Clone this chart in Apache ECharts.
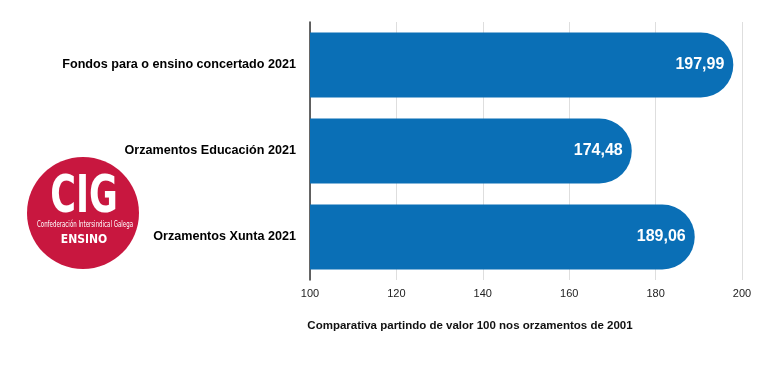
<!DOCTYPE html>
<html>
<head>
<meta charset="utf-8">
<script src="https://cdn.jsdelivr.net/npm/echarts@6/dist/echarts.min.js"></script>
<style>
html,body{margin:0;padding:0;background:#fff;}
#chart{width:767px;height:366px;}
</style>
</head>
<body>
<div id="chart"></div>
<script>
const categories = ["Fondos para o ensino concertado 2021", "Orzamentos Educación 2021", "Orzamentos Xunta 2021"];
const values = [197.99, 174.48, 189.06];
const axisTicks = [100, 120, 140, 160, 180, 200];
const axisTitle = "Comparativa partindo de valor 100 nos orzamentos de 2001";

const chart = echarts.init(document.getElementById('chart'), null, {renderer: 'canvas'});
const font = '"Liberation Sans", Arial, Helvetica, sans-serif';
chart.setOption({
  animation: false,
  backgroundColor: '#ffffff',
  grid: {left: 310, right: 25, top: 22, bottom: 86, containLabel: false},
  xAxis: {
    type: 'value',
    min: axisTicks[0],
    max: axisTicks[axisTicks.length - 1],
    interval: 20,
    axisLine: {show: false},
    axisTick: {show: false},
    splitLine: {show: true, lineStyle: {color: '#dedede', width: 1}},
    axisLabel: {color: '#222', fontFamily: font, fontSize: 11, margin: 8,
      formatter: v => String(v)},
    name: axisTitle,
    nameLocation: 'middle',
    nameGap: 40,
    nameTextStyle: {color: '#111', fontFamily: font, fontSize: 11.5, fontWeight: 'bold', padding: [0, 0, 0, -112]}
  },
  yAxis: {
    type: 'category',
    inverse: true,
    data: categories,
    axisLine: {show: true, onZero: false, lineStyle: {color: '#333', width: 1.5}},
    axisTick: {show: false},
    axisLabel: {color: '#000', fontFamily: font, fontSize: 12.6, fontWeight: 'bold', margin: 14}
  },
  series: [{
    type: 'bar',
    data: values,
    barWidth: 65,
    itemStyle: {color: '#0a6fb6', borderRadius: [0, 33, 33, 0]},
    label: {
      show: true, position: 'insideRight', distance: 9,
      color: '#fff', fontFamily: font, fontSize: 16, fontWeight: 'bold',
      formatter: p => p.value.toFixed(2).replace('.', ',')
    }
  }],
  graphic: [
    {type: 'circle', shape: {cx: 83, cy: 213, r: 56}, style: {fill: '#c8173f'}, z: 10},
    {type: 'text', x: 84, y: 198, scaleX: 0.75, z: 11,
      style: {text: 'CIG', fill: '#fff', align: 'center', verticalAlign: 'middle',
        font: 'bold 52px "DejaVu Sans Condensed", "Liberation Sans", sans-serif'}},
    {type: 'text', x: 85, y: 225, scaleX: 0.76, z: 11,
      style: {text: 'Confederación Intersindical Galega', fill: '#fff', align: 'center', verticalAlign: 'middle',
        font: '8px "DejaVu Sans Condensed", sans-serif'}},
    {type: 'text', x: 84, y: 240, z: 11,
      style: {text: 'ENSINO', fill: '#fff', align: 'center', verticalAlign: 'middle',
        font: 'bold 12px "DejaVu Sans Condensed", sans-serif'}}
  ]
});
</script>
</body>
</html>
